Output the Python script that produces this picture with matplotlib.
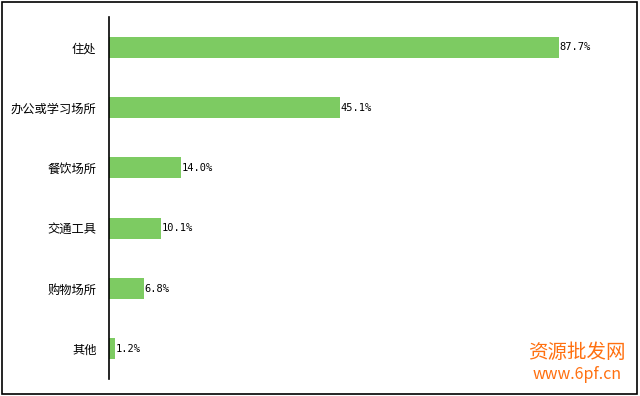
import matplotlib
matplotlib.use('Agg')
import matplotlib.pyplot as plt
from matplotlib.patches import Rectangle

plt.rcParams['font.family'] = ['Noto Sans CJK SC', 'DejaVu Sans']

places = ['住处', '办公或学习场所', '餐饮场所', '交通工具', '购物场所', '其他']
shares = [87.7, 45.1, 14.0, 10.1, 6.8, 1.2]
value_labels = ['87.7%', '45.1%', '14.0%', '10.1%', '6.8%', '1.2%']

fig = plt.figure(figsize=(6.4, 3.96), dpi=100)
ax = fig.add_axes([0.1703, 0.0429, 0.8016, 0.9141])

ypos = list(range(len(places)))
ax.barh(ypos, shares, height=0.35, color='#7DCB62', zorder=2)
for y, v, lab in zip(ypos, shares, value_labels):
    ax.text(v + 0.1, y, lab, va='center', ha='left', fontsize=7.5,
            family='DejaVu Sans Mono', color='black')

ax.set_xlim(0, 100)
ax.set_ylim(len(places) - 0.5, -0.5)
ax.set_yticks(ypos)
ax.set_yticklabels(places, fontsize=8.8)
ax.tick_params(axis='y', length=0, pad=9)
ax.set_xticks([])
for s in ['top', 'right', 'bottom']:
    ax.spines[s].set_visible(False)
ax.spines['left'].set_linewidth(1.2)

# outer frame
fig.patches.append(Rectangle((2 / 640, 2 / 396), 635 / 640, 392 / 396,
                             transform=fig.transFigure, fill=False,
                             edgecolor='black', lw=1.2))

# watermark
fig.text(0.901, 0.11, '资源批发网', ha='center', va='center', fontsize=14,
         color='#FF7010')
fig.text(0.901, 0.055, 'www.6pf.cn', ha='center', va='center', fontsize=11.5,
         color='#FF7010', style='italic')

fig.savefig('out.png', dpi=100)
